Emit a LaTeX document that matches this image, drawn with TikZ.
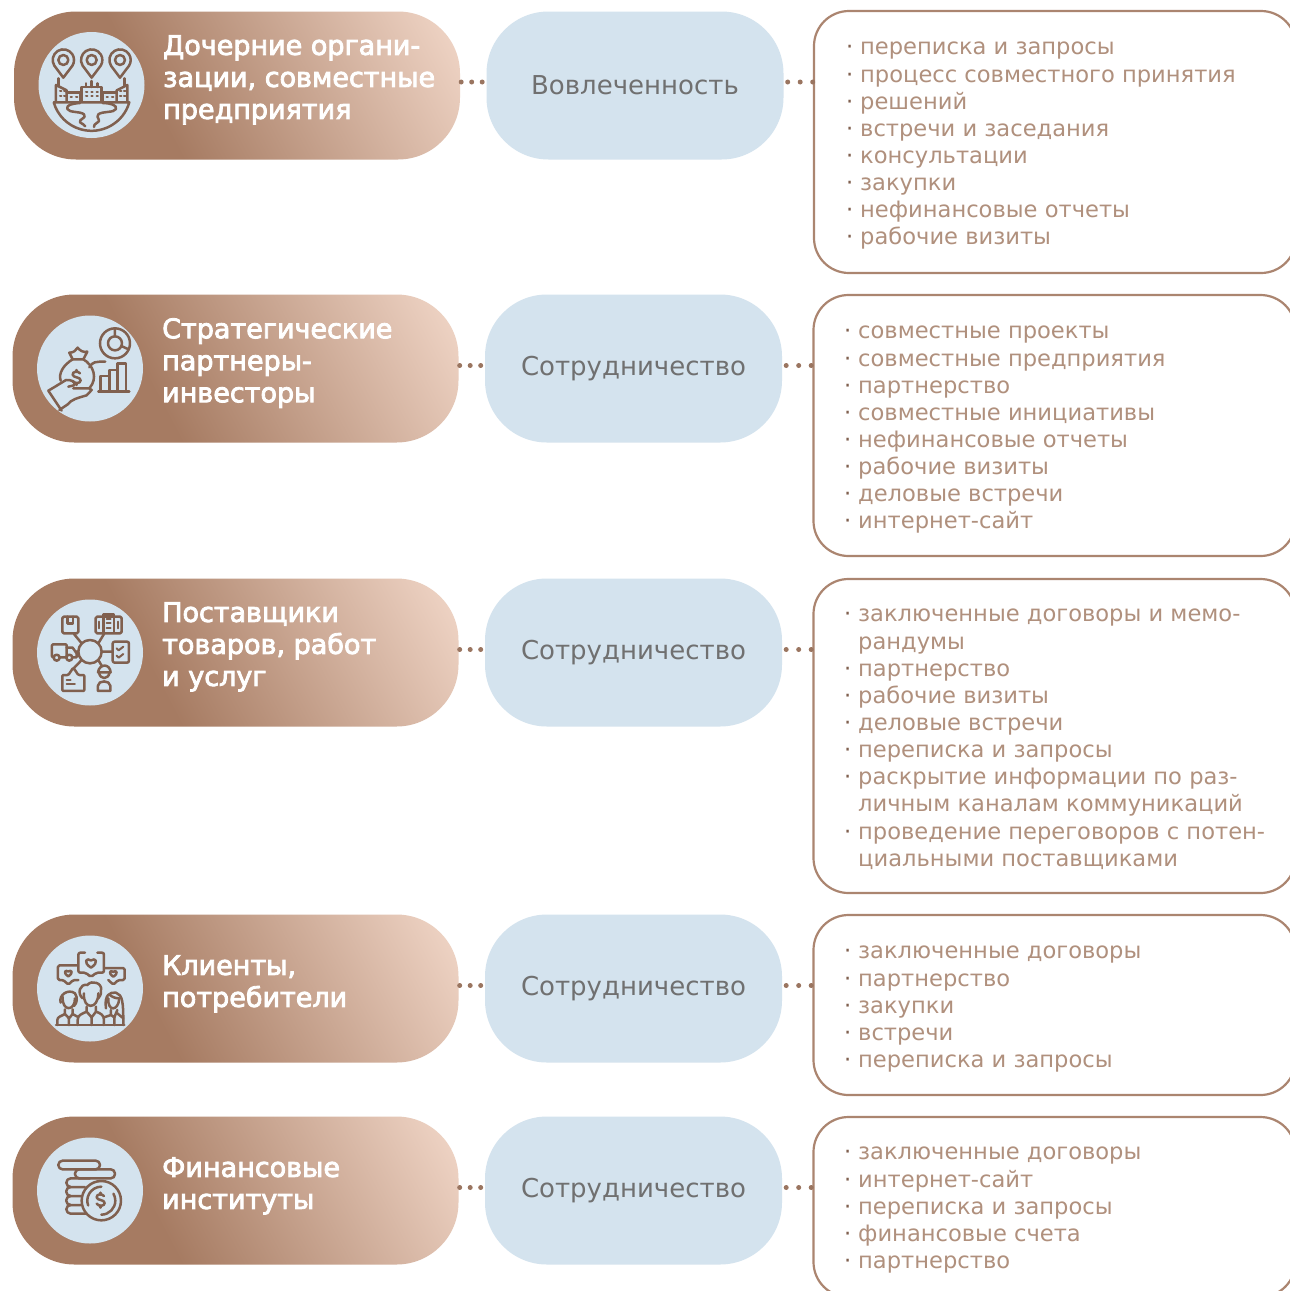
\documentclass[tikz,border=0pt]{standalone}
\usepackage{fontspec}
\setmainfont{DejaVu Sans}
\newfontfamily\titlefont[FakeBold=3]{DejaVu Sans}
\definecolor{brn}{HTML}{A67B62}
\definecolor{lgt}{HTML}{EFD4C5}
\definecolor{pale}{HTML}{D4E3EE}
\definecolor{edgec}{HTML}{AB8570}
\definecolor{txtc}{HTML}{B0907D}
\definecolor{midc}{HTML}{707070}
\definecolor{icoc}{HTML}{80604F}
\definecolor{dotc}{HTML}{9A7560}
\pgfdeclarehorizontalshading{pillgrad}{100bp}{color(0bp)=(brn); color(38bp)=(brn); color(82bp)=(lgt); color(100bp)=(lgt)}
\newcommand{\bl}[1]{\makebox[14pt][l]{\textcolor{icoc}{·}}#1}
\newcommand{\cn}[1]{\hspace*{14pt}#1}
\tikzset{
  x=1pt,y=-1pt,
  pill/.style={rectangle,rounded corners=62pt,minimum width=446pt,minimum height=148pt,inner sep=0pt,shading=pillgrad,shading angle=28},
  midpill/.style={rectangle,rounded corners=62pt,fill=pale,minimum width=297pt,minimum height=148pt,text=midc,font=\fontsize{26}{28}\selectfont,inner sep=0pt},
  listbox/.style={rectangle,draw=edgec,line width=2.2pt,rounded corners=35pt,minimum width=482pt,inner sep=0pt},
  listtext/.style={anchor=north west,inner sep=0pt,align=left,text=txtc,font=\fontsize{22.6}{27.15}\selectfont},
  titletext/.style={anchor=north west,inner sep=0pt,align=left,text=white,font=\titlefont\fontsize{27}{32}\selectfont},
  disc/.style={circle,fill=pale,minimum size=106pt,inner sep=0pt},
  dotline/.style={draw=dotc,line width=5pt,line cap=round,dash pattern=on 0pt off 10.5pt},
  dotlineb/.style={draw=dotc,line width=5pt,line cap=round,dash pattern=on 0pt off 12.5pt},
  ico/.style={draw=icoc,line width=2.5pt,line join=round,line cap=round},
  icotiny/.style={draw=icoc,line width=2pt,line join=round,line cap=round},
  crop/.style={shift={#1},x=0.3333pt,y=-0.3333pt},
  pics/icopin/.style={code={
    \draw[ico] (0,53) -- (-27,17) arc[start angle=148,end angle=392,radius=32] -- cycle;
    \draw[ico] (0,0) circle[radius=15];}},
  pics/icoheart/.style={code={
    \draw[ico] (0,#1) .. controls (-1.7*#1,-0.1*#1) and (-0.9*#1,-1.1*#1) .. (0,-0.45*#1) .. controls (0.9*#1,-1.1*#1) and (1.7*#1,-0.1*#1) .. (0,#1);}},
  pics/icodollar/.style={code={
    \draw[ico] (10,-12) .. controls (4,-20) and (-13,-18) .. (-12,-8) .. controls (-11,2) and (12,-2) .. (12,9) .. controls (12,19) and (-6,20) .. (-12,11);
    \draw[ico] (0,-22) -- (0,-17) (0,18) -- (0,23);}},
}
\begin{document}
\begin{tikzpicture}
\useasboundingbox (0,0) rectangle (1290,1291);
\fill[white] (0,0) rectangle (1290,1291);
% ---- row 1
\node[pill] (p1) at (237,85.5) {};
\node[midpill] (m1) at (635,85.5) {\raisebox{1.5pt}{Вовлеченность}};
\node[listbox,minimum height=262pt] (b1) at (1055,142) {};
\node[disc] (d1) at (91.5,85) {};
\node[titletext] (t1) at (163,35) {Дочерние органи-\\зации, совместные\\предприятия};
\node[listtext] (l1) at (846,42) {\bl{переписка и запросы}\\\bl{процесс совместного принятия}\\\bl{решений}\\\bl{встречи и заседания}\\\bl{консультации}\\\bl{закупки}\\\bl{нефинансовые отчеты}\\\bl{рабочие визиты}};
% ---- row 2
\node[pill] (p2) at (235.5,368.5) {};
\node[midpill] (m2) at (633.5,368.5) {Сотрудничество};
\node[listbox,minimum height=261pt] (b2) at (1054.5,425.5) {};
\node[disc] (d2) at (90,368.5) {};
\node[titletext] (t2) at (162,318) {Стратегические\\партнеры-\\инвесторы};
\node[listtext] (l2) at (844,326) {\bl{совместные проекты}\\\bl{совместные предприятия}\\\bl{партнерство}\\\bl{совместные инициативы}\\\bl{нефинансовые отчеты}\\\bl{рабочие визиты}\\\bl{деловые встречи}\\\bl{интернет-сайт}};
% ---- row 3
\node[pill] (p3) at (235.5,652.5) {};
\node[midpill] (m3) at (633.5,652.5) {Сотрудничество};
\node[listbox,minimum height=314pt] (b3) at (1054.5,736) {};
\node[disc] (d3) at (90,652.5) {};
\node[titletext] (t3) at (162,602) {Поставщики\\товаров, работ\\и услуг};
\node[listtext] (l3) at (844,609) {\bl{заключенные договоры и мемо-}\\\cn{рандумы}\\\bl{партнерство}\\\bl{рабочие визиты}\\\bl{деловые встречи}\\\bl{переписка и запросы}\\\bl{раскрытие информации по раз-}\\\cn{личным каналам коммуникаций}\\\bl{проведение переговоров с потен-}\\\cn{циальными поставщиками}};
% ---- row 4
\node[pill] (p4) at (235.5,988.5) {};
\node[midpill] (m4) at (633.5,988.5) {Сотрудничество};
\node[listbox,minimum height=180pt] (b4) at (1054.5,1005) {};
\node[disc] (d4) at (90,988.5) {};
\node[titletext] (t4) at (162,955) {Клиенты,\\потребители};
\node[listtext] (l4) at (844,946) {\bl{заключенные договоры}\\\bl{партнерство}\\\bl{закупки}\\\bl{встречи}\\\bl{переписка и запросы}};
% ---- row 5
\node[pill] (p5) at (235.5,1190.5) {};
\node[midpill] (m5) at (633.5,1190.5) {Сотрудничество};
\node[listbox,minimum height=180pt] (b5) at (1054.5,1207) {};
\node[disc] (d5) at (90,1190.5) {};
\node[titletext] (t5) at (162,1157) {Финансовые\\институты};
\node[listtext] (l5) at (844,1147) {\bl{заключенные договоры}\\\bl{интернет-сайт}\\\bl{переписка и запросы}\\\bl{финансовые счета}\\\bl{партнерство}};
% ---- connectors
\foreach \r/\o in {1/-3.5,2/-3,3/-3,4/-3,5/-3}{
  \coordinate (e\r) at (p\r.east);
  \coordinate (w\r) at (m\r.west |- p\r.east);
  \draw[dotline] ([xshift=1pt,yshift=-\o pt]e\r) -- ([yshift=-\o pt]w\r);
  \coordinate (c\r) at (b\r.west |- p\r.east);
  \coordinate (f\r) at (m\r.east |- p\r.east);
  \draw[dotlineb] ([xshift=4pt,yshift=-\o pt]f\r) -- ([yshift=-\o pt]c\r);
}
% ---- icon 1
\begin{scope}[crop={(30,25)}]
  \pic at (100,105) {icopin};
  \pic at (185,105) {icopin};
  \pic at (270,105) {icopin};
  \draw[ico] (78,228) -- (78,180) -- (110,196) -- (110,228);
  \draw[ico] (86,160) -- (86,183);
  \draw[ico] (110,203) -- (152,203) -- (152,228);
  \draw[ico] (155,228) -- (155,186) -- (215,186) -- (215,228);
  \draw[ico] (185,168) -- (185,186) (168,175) -- (168,186) (202,175) -- (202,186);
  \draw[ico] (218,228) -- (218,203) -- (260,203);
  \draw[ico] (260,228) -- (260,196) -- (292,180) -- (292,228);
  \draw[ico] (284,160) -- (284,183);
  \foreach \qx/\qy in {90/198,102/198,90/212,102/212,122/215,138/215,168/200,184/200,200/200,168/214,184/214,200/214,230/215,246/215,270/198,282/198,270/212,282/212}
    \draw[icotiny] (\qx,\qy) -- ++(4,0);
  \draw[ico] (72,232) -- (298,232) arc[start angle=16,end angle=164,radius=118];
  \draw[ico] (150,234) .. controls (125,236) and (108,240) .. (112,252) .. controls (118,264) and (150,258) .. (162,268) .. controls (172,280) and (145,282) .. (150,292) .. controls (155,298) and (165,298) .. (166,304);
  \draw[ico] (218,234) .. controls (240,234) and (262,240) .. (258,252) .. controls (252,264) and (218,258) .. (205,268) .. controls (195,280) and (218,284) .. (200,294) .. controls (194,298) and (192,300) .. (192,306);
\end{scope}
% ---- icon 2
\begin{scope}[crop={(30,310)}]
  \draw[ico] (255,100) circle[radius=45];
  \draw[ico] (255,100) circle[radius=21];
  \draw[ico] (255,56) -- (255,79) (274,108) -- (296,118);
  \draw[ico] (205,245) -- (298,245);
  \draw[ico] (212,245) -- (212,198) -- (238,198) -- (238,245);
  \draw[ico] (238,198) -- (238,180) -- (262,180) -- (262,245);
  \draw[ico] (262,160) -- (288,160) -- (288,245) (262,180) -- (262,160);
  \draw[ico] (178,172) .. controls (188,155) and (195,155) .. (226,155);
  \draw[ico] (128,148) -- (118,128) .. controls (130,128) and (138,122) .. (143,113) .. controls (150,122) and (160,128) .. (172,125) -- (160,148) -- cycle;
  \draw[ico] (128,148) .. controls (100,165) and (85,190) .. (92,212);
  \draw[ico] (160,148) .. controls (190,165) and (205,205) .. (178,235) -- (130,235);
  \pic at (140,202) {icodollar};
  \draw[ico] (55,242) -- (95,302);
  \draw[ico] (55,242) -- (72,232) -- (108,210) .. controls (120,208) and (140,215) .. (132,226) -- (115,230);
  \draw[ico] (88,300) -- (112,284) .. controls (125,268) and (140,265) .. (170,256) -- (185,240) -- (178,235);
\end{scope}
% ---- icon 3
\begin{scope}[crop={(30,595)}]
  \draw[ico] (180,170) circle[radius=35];
  \draw[ico] (155,145) -- (132,117) (205,145) -- (222,117) (215,170) -- (248,170) (205,195) -- (215,212) (155,195) -- (133,218) (145,170) -- (137,170);
  \draw[ico,rounded corners=1.5pt] (97,65) rectangle (145,115);
  \draw[ico] (113,65) -- (113,85) -- (129,85) -- (129,65);
  \draw[ico,rounded corners=1.5pt] (197,65) rectangle (275,115);
  \draw[ico] (220,112) -- (220,58) -- (252,58) -- (252,112);
  \draw[icotiny] (230,72) -- (242,72) (230,85) -- (242,85) (230,98) -- (242,98) (207,80) -- (207,100) (265,80) -- (265,100);
  \draw[ico,rounded corners=1pt] (72,187) -- (66,187) -- (66,148) -- (110,148) -- (110,187) -- (88,187);
  \draw[ico] (110,158) -- (128,158) -- (140,175) -- (140,187) -- (128,187);
  \draw[ico] (80,188) circle[radius=9] (118,188) circle[radius=9];
  \draw[ico,rounded corners=2pt] (248,140) rectangle (297,203);
  \draw[icotiny] (260,160) -- (266,166) -- (280,155) (260,182) -- (266,188) -- (280,177);
  \draw[ico,rounded corners=1pt] (97,240) -- (115,240) -- (130,218) -- (145,240) -- (163,240) -- (163,288) -- (97,288) -- cycle;
  \draw[icotiny] (110,255) -- (122,255) (110,268) -- (135,268);
  \draw[ico] (204,232) .. controls (208,205) and (240,205) .. (242,232) -- cycle;
  \draw[ico] (207,232) .. controls (210,255) and (235,255) .. (239,232);
  \draw[ico] (204,288) -- (204,272) .. controls (204,255) and (240,255) .. (241,272) -- (241,288) -- cycle;
\end{scope}
% ---- icon 4
\begin{scope}[crop={(30,930)}]
  \draw[ico,rounded corners=2pt] (165,68) -- (145,68) -- (145,128) -- (168,128) -- (183,142) -- (198,128) -- (222,128) -- (222,68) -- (202,68);
  \pic at (183,98) {icoheart=15};
  \draw[ico,rounded corners=1.5pt] (143,106) -- (84,106) -- (84,150) -- (100,150) -- (115,164) -- (130,150) -- (145,150);
  \pic at (115,129) {icoheart=10};
  \draw[ico,rounded corners=1.5pt] (224,114) -- (284,114) -- (284,150) -- (265,150) -- (250,164) -- (235,150);
  \pic at (250,130) {icoheart=10};
  % middle person
  \draw[ico] (158,205) .. controls (140,190) and (150,160) .. (172,165) .. controls (185,148) and (218,160) .. (213,180) .. controls (215,195) and (208,200) .. (205,205);
  \draw[ico] (162,190) .. controls (158,240) and (205,240) .. (205,190);
  \draw[ico] (170,230) -- (170,245) -- (185,262) -- (198,245) -- (198,230);
  \draw[ico] (143,285) -- (143,270) .. controls (143,255) and (155,252) .. (170,245) (222,285) -- (222,270) .. controls (222,255) and (212,250) .. (198,245) (185,262) -- (185,285);
  % left person
  \draw[ico] (92,218) .. controls (85,195) and (115,175) .. (135,190) .. controls (145,205) and (140,220) .. (132,228);
  \draw[ico] (98,200) .. controls (95,245) and (135,245) .. (135,205);
  \draw[ico] (105,238) -- (105,252) -- (117,265) -- (128,252) -- (128,238);
  \draw[ico] (82,285) -- (82,270) .. controls (82,260) and (95,258) .. (105,252) (117,265) -- (117,285) (128,252) -- (142,260);
  % right person
  \draw[ico] (228,235) .. controls (222,195) and (240,185) .. (258,188) .. controls (278,195) and (280,215) .. (280,285);
  \draw[ico] (235,205) .. controls (232,245) and (265,245) .. (268,205) .. controls (255,205) and (245,200) .. (240,195);
  \draw[ico] (243,240) -- (243,255) -- (253,262) -- (262,240);
  \draw[ico] (222,262) -- (243,255) (262,250) -- (280,265) (253,262) -- (253,285);
  \draw[ico] (78,285) -- (283,285);
\end{scope}
% ---- icon 5
\begin{scope}[crop={(30,1130)}]
  \draw[ico,rounded corners=4.2pt] (85,92) rectangle (210,118);
  \draw[ico,rounded corners=4.2pt] (135,118) rectangle (255,145);
  \draw[ico] (180,145) -- (122,145) arc[start angle=-90,end angle=-270,radius=13] -- (165,171);
  \draw[ico] (122,171) arc[start angle=-90,end angle=-270,radius=13.5] -- (155,198);
  \draw[ico] (122,198) arc[start angle=-90,end angle=-270,radius=13.5] -- (152,225);
  \draw[ico] (122,225) arc[start angle=-90,end angle=-270,radius=13] -- (170,251);
  \draw[ico] (214,212) circle[radius=59];
  \draw[ico] (214,170) arc[start angle=-90,end angle=-200,radius=42];
  \draw[ico] (214,254) arc[start angle=90,end angle=-30,radius=42];
  \pic at (212,210) {icodollar};
\end{scope}
\end{tikzpicture}
\end{document}
